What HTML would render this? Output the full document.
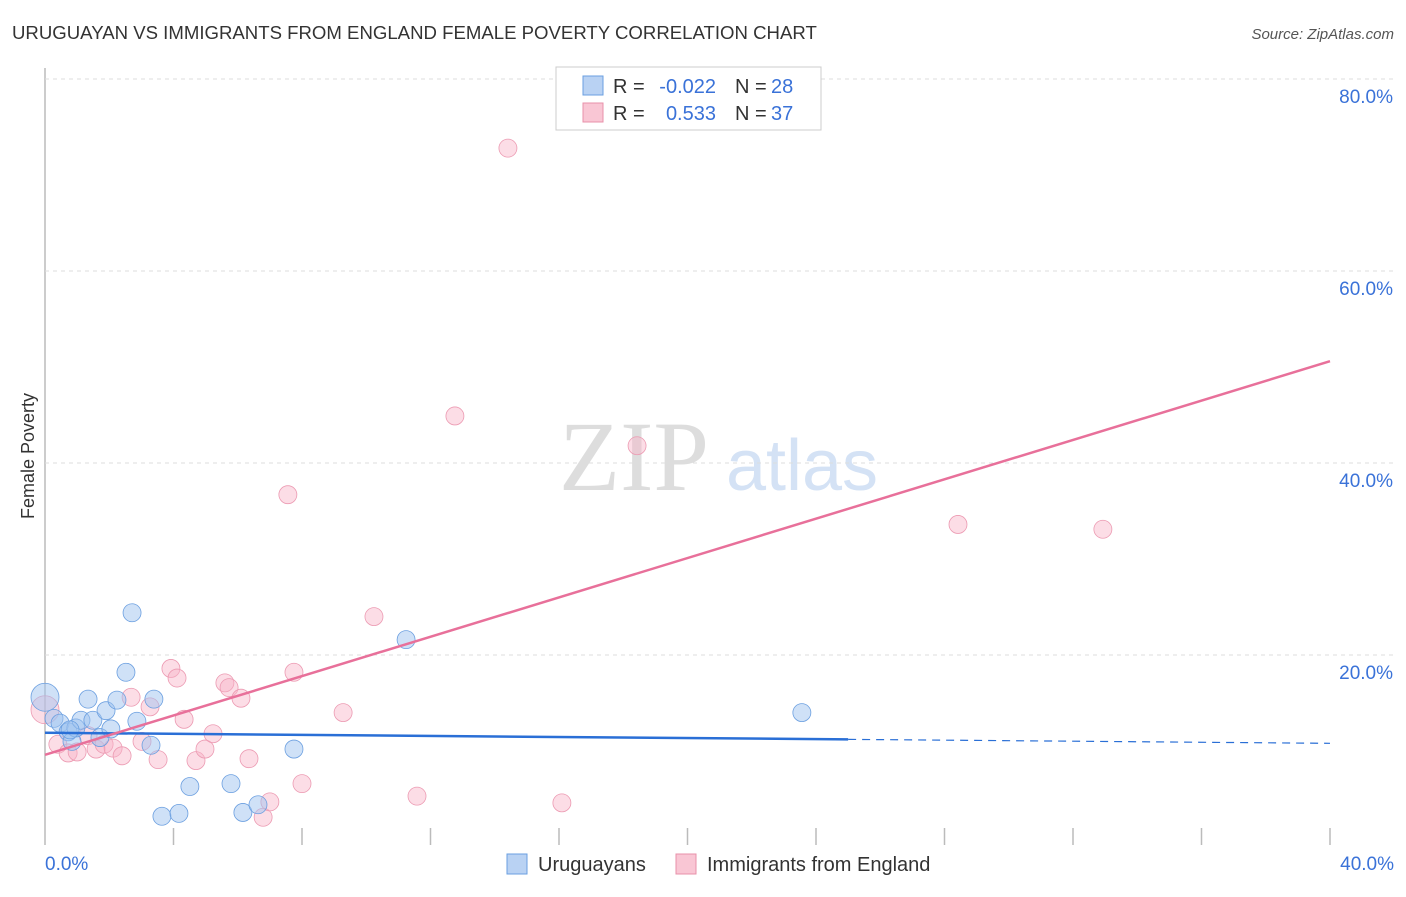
<!DOCTYPE html>
<html><head><meta charset="utf-8"><style>
body{margin:0;background:#fff;font-family:"Liberation Sans",sans-serif;}
</style></head><body>
<svg id="chart" width="1406" height="892" font-family="Liberation Sans, sans-serif">
<text x="12" y="39" font-size="18.6" fill="#333">URUGUAYAN VS IMMIGRANTS FROM ENGLAND FEMALE POVERTY CORRELATION CHART</text>
<text x="1394" y="39" font-size="15" fill="#555" font-style="italic" text-anchor="end">Source: ZipAtlas.com</text>
<text x="34" y="456" font-size="18" fill="#333" transform="rotate(-90 34 456)" text-anchor="middle">Female Poverty</text>
<g>
<text x="634" y="490" font-size="100" fill="#ddd" text-anchor="middle" style="font-family:'Liberation Serif',serif">ZIP</text>
<text x="802" y="490" font-size="72" fill="#d4e2f5" text-anchor="middle">atlas</text>
</g>
<g id="grid"></g><g id="marks"></g>
<g>
<rect x="556" y="67" width="265" height="63" fill="#fff" stroke="#ccc"/>
<rect x="583" y="76" width="20" height="19" fill="#b9d2f3" stroke="#6a9fe0"/>
<rect x="583" y="103" width="20" height="19" fill="#f9c6d4" stroke="#e890aa"/>
<text x="613" y="93" font-size="20" fill="#333">R =</text>
<text x="716" y="93" font-size="20" fill="#3a72d8" text-anchor="end">-0.022</text>
<text x="735" y="93" font-size="20" fill="#333">N =</text>
<text x="771" y="93" font-size="20" fill="#3a72d8">28</text>
<text x="613" y="120" font-size="20" fill="#333">R =</text>
<text x="716" y="120" font-size="20" fill="#3a72d8" text-anchor="end">0.533</text>
<text x="735" y="120" font-size="20" fill="#333">N =</text>
<text x="771" y="120" font-size="20" fill="#3a72d8">37</text>
</g>
<g>
<rect x="507" y="854" width="20" height="20" fill="#b9d2f3" stroke="#6a9fe0"/>
<text x="538" y="871" font-size="20" fill="#333">Uruguayans</text>
<rect x="676" y="854" width="20" height="20" fill="#f9c6d4" stroke="#e890aa"/>
<text x="707" y="871" font-size="20" fill="#333">Immigrants from England</text>
</g>
</svg>
<script>
const xTicks=[0,4,8,12,16,20,24,28,32,36,40];
const yTicks=[20,40,60,80];
const uruX=[0,0.28,0.47,0.72,0.84,0.96,1.12,1.34,1.49,1.71,1.90,2.05,2.24,2.52,2.71,2.86,3.30,3.39,3.64,4.17,4.51,5.79,6.16,6.63,7.75,11.24,23.56,0.78];
const uruY=[15.6,13.4,12.9,12.0,11.0,12.4,13.2,15.4,13.2,11.4,14.2,12.3,15.3,18.2,24.4,13.1,10.6,15.4,3.2,3.5,6.3,6.6,3.6,4.4,10.2,21.6,14.0,12.2];
const engX=[0,0.40,0.72,1.00,1.34,1.59,1.84,2.12,2.40,2.68,3.02,3.27,3.52,3.92,4.11,4.33,4.70,4.98,5.23,5.60,5.73,6.10,6.35,6.79,7.00,7.56,7.75,8.00,9.28,10.24,11.58,12.76,14.41,16.09,18.43,28.42,32.93];
const engY=[14.3,10.7,9.8,9.9,11.6,10.2,10.7,10.3,9.5,15.6,11.0,14.6,9.1,18.6,17.6,13.3,9.0,10.2,11.8,17.1,16.6,15.5,9.2,3.1,4.7,36.7,18.2,6.6,14.0,24.0,5.3,44.9,72.8,4.6,41.8,33.6,33.1];
const uruTrend=[11.9,-0.0275];
const engTrend=[9.6,1.025];
const X=v=>45+v*32.125, Y=v=>847-v*9.6;
const NS='http://www.w3.org/2000/svg';
const grid=document.getElementById('grid'), marks=document.getElementById('marks');
function mk(tag,attrs,parent){const e=document.createElementNS(NS,tag);for(const k in attrs)e.setAttribute(k,attrs[k]);parent.appendChild(e);return e;}
let ax=mk('line',{x1:45,y1:68,x2:45,y2:845,stroke:'#bbb','stroke-width':1.5},grid);


yTicks.forEach(t=>{
 const l=mk('line',{x1:45,x2:1394,y1:Y(t),y2:Y(t),stroke:'#ddd','stroke-dasharray':'4,4'},grid);
 
 
 const tx=mk('text',{x:1393,y:Y(t)+24,'font-size':19,fill:'#3a72d8','text-anchor':'end'},grid);
 tx.textContent=t.toFixed(1)+'%';
 
 
});
xTicks.slice(1).forEach(t=>{
 const l=mk('line',{x1:X(t),x2:X(t),y1:828,y2:845,stroke:'#bbb','stroke-width':1.5},grid);
 
 
});
[[0,'start',45],[40,'end',1394]].forEach(([t,a,x])=>{
 const tx=mk('text',{x:x,y:870,'font-size':19,fill:'#3a72d8','text-anchor':a},grid);
 tx.textContent=t.toFixed(1)+'%';
 
 
});
function dots(xs,ys,fill,stroke,name){
 xs.forEach((x,i)=>{
  const c=mk('circle',{cx:X(x),cy:Y(ys[i]),r:(x===0?14:9),fill:fill,stroke:stroke,'stroke-width':0.8},marks);
  
  
 });
}
dots(engX,engY,'rgba(248,180,200,0.45)','#ec9ab2','england-point');
dots(uruX,uruY,'rgba(160,196,240,0.5)','#6b9fe0','uruguayan-point');
let l1=mk('line',{x1:X(0),y1:Y(uruTrend[0]),x2:X(25),y2:Y(uruTrend[0]+uruTrend[1]*25),stroke:'#2a6fd6','stroke-width':2.5},marks);


let l2=mk('line',{x1:X(25),y1:Y(uruTrend[0]+uruTrend[1]*25),x2:X(40),y2:Y(uruTrend[0]+uruTrend[1]*40),stroke:'#2a6fd6','stroke-width':1.2,'stroke-dasharray':'8,6'},marks);


let l3=mk('line',{x1:X(0),y1:Y(engTrend[0]),x2:X(40),y2:Y(engTrend[0]+engTrend[1]*40),stroke:'#e8709a','stroke-width':2.5},marks);


</script>
</body></html>
